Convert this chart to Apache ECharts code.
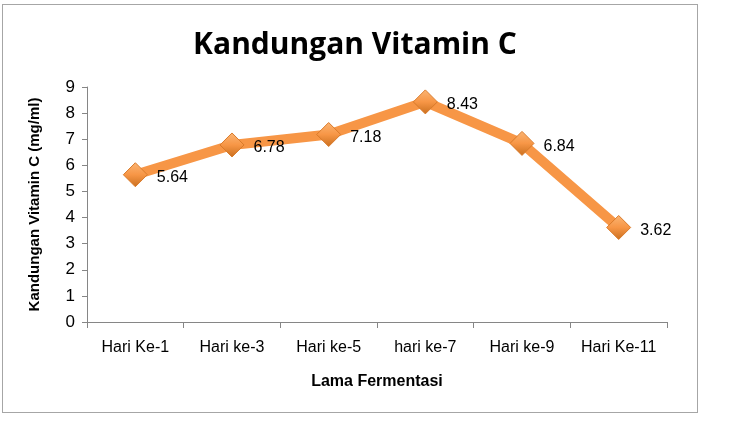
<!DOCTYPE html>
<html>
<head>
<meta charset="utf-8">
<script src="https://cdn.jsdelivr.net/npm/echarts@6/dist/echarts.min.js"></script>
<style>
  html, body { margin: 0; padding: 0; background: #fff; }
  #frame { position: absolute; left: 2px; top: 4px; width: 694px; height: 407px; border: 1px solid #a6a6a6; }
  #chart { position: absolute; left: 0; top: 0; width: 746px; height: 422px; }
</style>
</head>
<body>
<div id="frame"></div>
<div id="chart"></div>
<script>
const categories = ['Hari Ke-1', 'Hari ke-3', 'Hari ke-5', 'hari ke-7', 'Hari ke-9', 'Hari Ke-11']
const vitaminC = [5.64, 6.78, 7.18, 8.43, 6.84, 3.62]
const yTicks = { min: 0, max: 9, interval: 1 }

const font = 'Liberation Sans, Arial, sans-serif'
const chart = echarts.init(document.getElementById('chart'))
chart.setOption({
  animation: false,
  title: {
    text: 'Kandungan Vitamin C',
    left: 350,
    textAlign: 'center',
    top: 25,
    textStyle: { fontFamily: 'Open Sans', fontWeight: 'bold', fontSize: 30, color: '#000' }
  },
  grid: { left: 87, right: 79, top: 87, bottom: 100 },
  xAxis: {
    type: 'category',
    data: categories,
    boundaryGap: true,
    name: 'Lama Fermentasi',
    nameLocation: 'middle',
    nameGap: 52,
    nameTextStyle: { fontFamily: font, fontWeight: 'bold', fontSize: 16, color: '#000' },
    axisLine: { lineStyle: { color: '#868686', width: 1 } },
    axisTick: { show: true, interval: 0, alignWithLabel: false, length: 6, lineStyle: { color: '#868686' } },
    axisLabel: { interval: 0, hideOverlap: false, fontFamily: font, fontSize: 16, color: '#000', margin: 18 },
    splitLine: { show: false }
  },
  yAxis: {
    type: 'value',
    min: yTicks.min,
    max: yTicks.max,
    interval: yTicks.interval,
    name: 'Kandungan Vitamin C (mg/ml)',
    nameLocation: 'middle',
    nameRotate: 90,
    nameGap: 45,
    nameTextStyle: { fontFamily: font, fontWeight: 'bold', fontSize: 15, color: '#000' },
    axisLine: { show: true, lineStyle: { color: '#868686', width: 1 } },
    axisTick: { show: true, length: 5, lineStyle: { color: '#868686' } },
    axisLabel: { fontFamily: font, fontSize: 17, color: '#000', margin: 12 },
    splitLine: { show: false }
  },
  series: [
    {
      name: 'Kandungan Vitamin C',
      type: 'line',
      data: vitaminC,
      symbol: 'diamond',
      symbolSize: 24,
      lineStyle: { color: '#f79646', width: 10 },
      itemStyle: {
        color: new echarts.graphic.LinearGradient(0, 0, 0, 1, [
          { offset: 0, color: '#fbb574' },
          { offset: 0.5, color: '#f79646' },
          { offset: 1, color: '#c96f1e' }
        ]),
        borderColor: '#d97a2a',
        borderWidth: 1
      },
      label: {
        show: true,
        position: 'right',
        offset: [4, 3],
        fontFamily: font,
        fontSize: 16,
        color: '#000'
      }
    }
  ]
})
</script>
</body>
</html>
